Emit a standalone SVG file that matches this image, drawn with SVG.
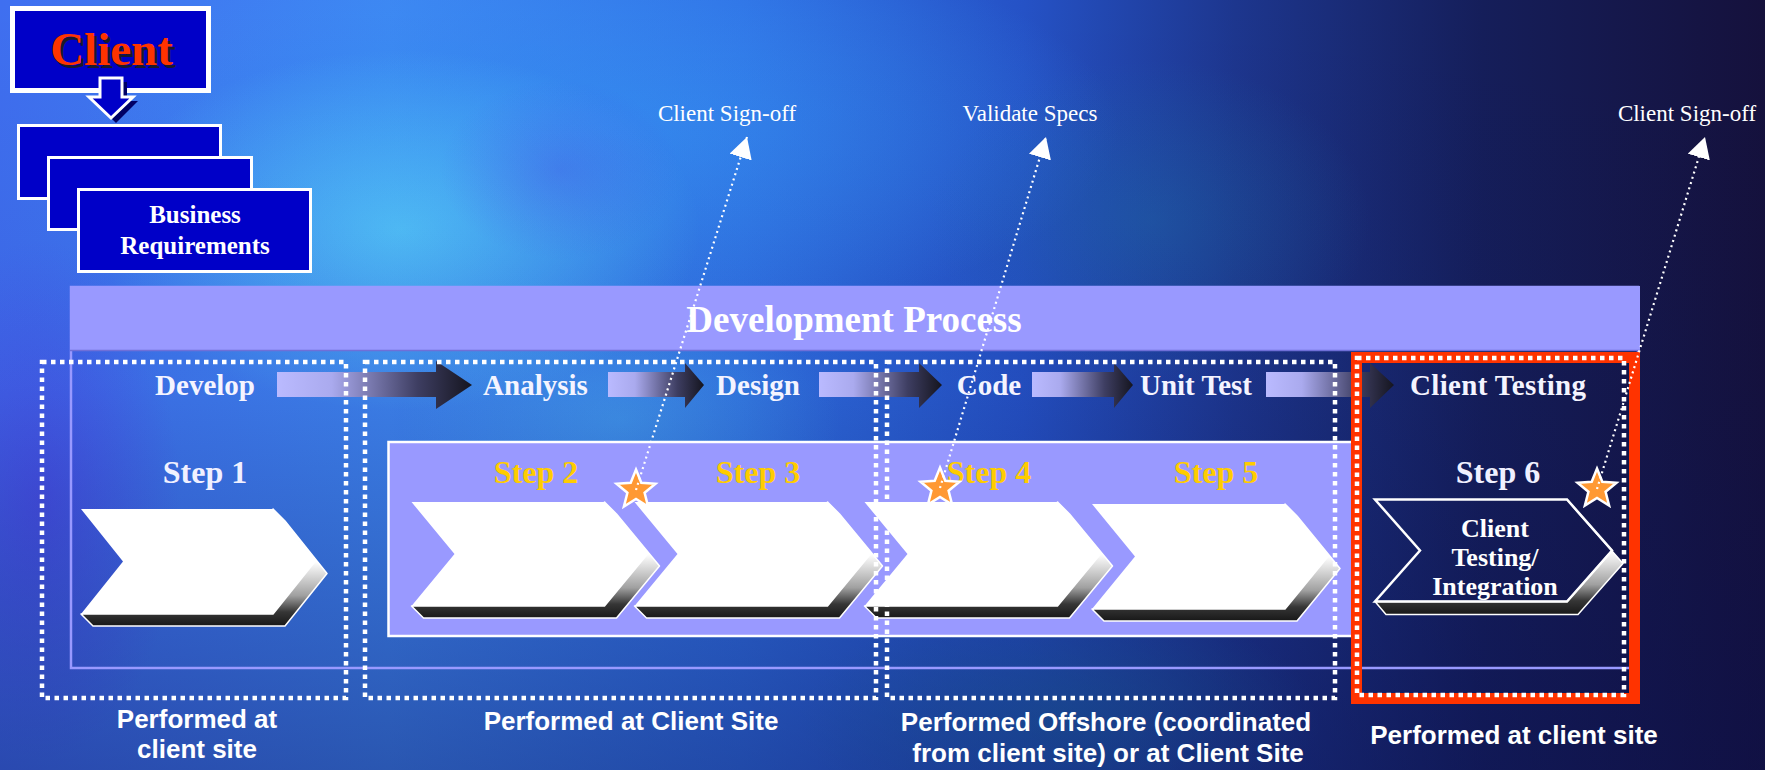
<svg xmlns="http://www.w3.org/2000/svg" width="1765" height="770" viewBox="0 0 1765 770">
  <style>
    .serif { font-family: "Liberation Serif", "Times New Roman", serif; font-weight: bold; }
    .note { font-family: "Liberation Serif", "Times New Roman", serif; font-size: 23px; fill: #ffffff; }
    .sans { font-family: "Liberation Sans", Arial, sans-serif; font-weight: bold; font-size: 26px; fill: #ffffff; }
    .phase { font-size: 29px; fill: #f4f4ff; }
    .step { font-size: 32px; }
    .gold { fill: #ffcc00; }
    .pale { fill: #f0f0ff; }
    .face { fill: #ffffff; }
    .bevel { fill: url(#bevelGrad); stroke: #ffffff; stroke-width: 1.5; stroke-linejoin: round; }
    .dotbox { fill: none; stroke: #ffffff; stroke-width: 4.5; stroke-dasharray: 4.5 4.5; }
    .flow { fill: url(#flowGrad); }
    .req { fill: #0000c8; stroke: #ffffff; stroke-width: 3; }
    .link { fill: none; stroke: #ffffff; stroke-width: 2.2; stroke-dasharray: 2 3.5; marker-end: url(#tri); }
    .star { fill: #ff9933; stroke: #ffffff; stroke-width: 2.5; stroke-linejoin: miter; }
  </style>
  <defs>
    <linearGradient id="bgBase" x1="0" y1="0" x2="1" y2="0">
      <stop offset="0" stop-color="#3f6ff0"/>
      <stop offset="0.22" stop-color="#3f86f2"/>
      <stop offset="0.42" stop-color="#3070e4"/>
      <stop offset="0.58" stop-color="#2552c6"/>
      <stop offset="0.7" stop-color="#1d368e"/>
      <stop offset="0.84" stop-color="#151e5a"/>
      <stop offset="1" stop-color="#15113c"/>
    </linearGradient>
    <radialGradient id="glowCyan" cx="0.5" cy="0.5" r="0.5">
      <stop offset="0" stop-color="#5ad8ff" stop-opacity="0.7"/>
      <stop offset="0.5" stop-color="#5ad8ff" stop-opacity="0.35"/>
      <stop offset="1" stop-color="#5ad8ff" stop-opacity="0"/>
    </radialGradient>
    <radialGradient id="glowBlue" cx="0.5" cy="0.5" r="0.5">
      <stop offset="0" stop-color="#3592f5" stop-opacity="0.75"/>
      <stop offset="1" stop-color="#3592f5" stop-opacity="0"/>
    </radialGradient>
    <radialGradient id="glowViolet" cx="0.5" cy="0.5" r="0.5">
      <stop offset="0" stop-color="#4a46e8" stop-opacity="0.7"/>
      <stop offset="1" stop-color="#4a46e8" stop-opacity="0"/>
    </radialGradient>
    <radialGradient id="glowTeal" cx="0.5" cy="0.5" r="0.5">
      <stop offset="0" stop-color="#1f6fa8" stop-opacity="0.6"/>
      <stop offset="1" stop-color="#1f6fa8" stop-opacity="0"/>
    </radialGradient>
    <linearGradient id="shade" x1="0" y1="0" x2="0" y2="1">
      <stop offset="0" stop-color="#0a1050" stop-opacity="0"/>
      <stop offset="0.5" stop-color="#0a1050" stop-opacity="0.08"/>
      <stop offset="1" stop-color="#0a1050" stop-opacity="0.4"/>
    </linearGradient>
    <linearGradient id="flowGrad" x1="0" y1="0" x2="1" y2="0">
      <stop offset="0" stop-color="#babaff"/>
      <stop offset="0.28" stop-color="#aaaaee"/>
      <stop offset="0.72" stop-color="#3e3e62"/>
      <stop offset="1" stop-color="#15151f"/>
    </linearGradient>
    <linearGradient id="bevelGrad" x1="0" y1="0" x2="0" y2="1">
      <stop offset="0.45" stop-color="#ffffff"/>
      <stop offset="0.74" stop-color="#a0a0a0"/>
      <stop offset="0.88" stop-color="#363636"/>
      <stop offset="1" stop-color="#181818"/>
    </linearGradient>
    <marker id="tri" markerUnits="userSpaceOnUse" viewBox="0 0 21 23" refX="21" refY="11.5" markerWidth="21" markerHeight="23" orient="auto">
      <path d="M0,0 L21,11.5 L0,23 Z" fill="#ffffff"/>
    </marker>
    <path id="starShape" d="M0,-20.5 L5.3,-7.3 L19.5,-6.3 L8.6,2.8 L12.1,16.6 L0,9 L-12.1,16.6 L-8.6,2.8 L-19.5,-6.3 L-5.3,-7.3 Z"/>
  </defs>

  <!-- backdrop -->
  <g id="backdrop">
    <rect x="0" y="0" width="1765" height="770" fill="url(#bgBase)"/>
    <ellipse cx="600" cy="130" rx="520" ry="200" fill="url(#glowBlue)"/>
    <ellipse cx="400" cy="230" rx="300" ry="180" fill="url(#glowCyan)"/>
    <ellipse cx="620" cy="420" rx="220" ry="130" fill="url(#glowCyan)" opacity="0.45"/>
    <ellipse cx="40" cy="500" rx="140" ry="260" fill="url(#glowViolet)"/>
    <ellipse cx="560" cy="170" rx="120" ry="90" fill="url(#glowViolet)" opacity="0.45"/>
    <ellipse cx="1060" cy="720" rx="260" ry="120" fill="url(#glowTeal)"/>
    <ellipse cx="1150" cy="220" rx="220" ry="160" fill="url(#glowTeal)" opacity="0.7"/>
    <rect x="0" y="0" width="1765" height="770" fill="url(#shade)"/>
  </g>

  <!-- client and requirements -->
  <g id="client">
    <rect x="12.5" y="8.5" width="196" height="82" fill="#0000c8" stroke="#ffffff" stroke-width="5"/>
    <text x="114.5" y="68" class="serif" font-size="47" text-anchor="middle" fill="#1a1a2a">Client</text>
    <text x="111.5" y="65" class="serif" font-size="47" text-anchor="middle" fill="#ff3300">Client</text>
  </g>
  <g id="client-arrow">
    <polygon points="105,82 127,82 127,101 138,101 116,123 94,101 105,101" fill="#000066"/>
    <polygon points="100,78 122,78 122,97 133,97 111,118 89,97 100,97" fill="#0000c8" stroke="#ffffff" stroke-width="3" stroke-linejoin="miter"/>
  </g>
  <g id="requirements">
    <rect class="req" x="18.5" y="125.5" width="202" height="73"/>
    <rect class="req" x="48.5" y="157.5" width="203" height="72"/>
    <rect class="req" x="78.5" y="189.5" width="232" height="82"/>
    <text x="195" y="223" class="serif" font-size="25" text-anchor="middle" fill="#ffffff">Business</text>
    <text x="195" y="254" class="serif" font-size="25" text-anchor="middle" fill="#ffffff">Requirements</text>
  </g>

  <!-- development process frame -->
  <g id="process-frame">
    <rect x="71" y="287" width="1567" height="381" fill="none" stroke="#9999ff" stroke-width="2.5"/>
    <rect x="70" y="286" width="1570" height="64" fill="#9999ff"/>
    <line x1="70" y1="350.5" x2="1640" y2="350.5" stroke="#6f6fd8" stroke-width="1.5"/>
    <text x="854" y="332" class="serif" font-size="37" text-anchor="middle" fill="#ffffff">Development Process</text>
  </g>

  <!-- panel behind steps 2 to 5 -->
  <g id="step-panel">
    <rect x="388.5" y="442" width="968" height="194" fill="#9999ff" stroke="#ffffff" stroke-width="2.5"/>
  </g>

  <!-- phase flow arrows -->
  <g id="connectors">
    <polygon class="flow" points="277,372 436,372 436,361 472,385 436,409 436,397 277,397"/>
    <polygon class="flow" points="608,372 685,372 685,363 704,385 685,408 685,397 608,397"/>
    <polygon class="flow" points="819,372 919,372 919,363 942,385 919,408 919,397 819,397"/>
    <polygon class="flow" points="1032,372 1114,372 1114,363 1133,385 1114,408 1114,397 1032,397"/>
    <polygon class="flow" points="1266,372 1370,372 1370,363 1394,385 1370,408 1370,397 1266,397"/>
  </g>

  <!-- step chevrons -->
  <g id="step1">
    <path class="bevel" d="M273,509 L285,521 L327,573.5 L285,626 H93 L81,614 H273 L315,561.5 Z"/>
    <path class="face" d="M81,509 H273 L315,561.5 L273,614 H81 L123,561.5 Z"/>
    <text x="205" y="483" class="serif step pale" text-anchor="middle">Step 1</text>
    <text x="205" y="395" class="serif phase" text-anchor="middle">Develop</text>
  </g>
  <g id="step2">
    <path class="bevel" d="M604.5,502 L616.5,514 L659.5,566 L616.5,618 H423.5 L411.5,606 H604.5 L647.5,554 Z"/>
    <path class="face" d="M411.5,502 H604.5 L647.5,554 L604.5,606 H411.5 L454.5,554 Z"/>
    <text x="536" y="483" class="serif step gold" text-anchor="middle">Step 2</text>
    <text x="535.5" y="395" class="serif phase" text-anchor="middle">Analysis</text>
  </g>
  <g id="step3">
    <path class="bevel" d="M827.5,502 L839.5,514 L882.5,566 L839.5,618 H646.5 L634.5,606 H827.5 L870.5,554 Z"/>
    <path class="face" d="M634.5,502 H827.5 L870.5,554 L827.5,606 H634.5 L677.5,554 Z"/>
    <text x="758" y="483" class="serif step gold" text-anchor="middle">Step 3</text>
    <text x="758" y="395" class="serif phase" text-anchor="middle">Design</text>
  </g>
  <g id="step4">
    <path class="bevel" d="M1057.5,502 L1069.5,514 L1112.5,566 L1069.5,618 H876.5 L864.5,606 H1057.5 L1100.5,554 Z"/>
    <path class="face" d="M864.5,502 H1057.5 L1100.5,554 L1057.5,606 H864.5 L907.5,554 Z"/>
    <text x="989" y="483" class="serif step gold" text-anchor="middle">Step 4</text>
    <text x="989" y="395" class="serif phase" text-anchor="middle">Code</text>
  </g>
  <g id="step5">
    <path class="bevel" d="M1285,504 L1297,516 L1340,568.5 L1297,621 H1104 L1092,609 H1285 L1328,556.5 Z"/>
    <path class="face" d="M1092,504 H1285 L1328,556.5 L1285,609 H1092 L1135,556.5 Z"/>
    <text x="1216" y="483" class="serif step gold" text-anchor="middle">Step 5</text>
    <text x="1196" y="395" class="serif phase" text-anchor="middle">Unit Test</text>
  </g>

  <!-- site groupings -->
  <g id="site-groups">
    <rect class="dotbox" x="42" y="362" width="304" height="336"/>
    <rect class="dotbox" x="365" y="362" width="511" height="336"/>
    <rect class="dotbox" x="887" y="362" width="448" height="336"/>
  </g>

  <!-- client testing step -->
  <g id="step6">
    <rect x="1356.5" y="357.5" width="278" height="341" fill="none" stroke="#ff3300" stroke-width="11"/>
    <rect class="dotbox" x="1357" y="358" width="267" height="337"/>
    <path class="bevel" d="M1567,499.5 L1578,512.5 L1623,563.5 L1578,614.5 H1386 L1375,601.5 H1567 L1612,550.5 Z"/>
    <path d="M1375,499.5 H1567 L1612,550.5 L1567,601.5 H1375 L1420,550.5 Z" fill="none" stroke="#ffffff" stroke-width="2.5" stroke-linejoin="miter"/>
    <text x="1498" y="395" class="serif phase" text-anchor="middle" textLength="176">Client Testing</text>
    <text x="1498" y="483" class="serif step pale" text-anchor="middle">Step 6</text>
    <text x="1495" y="537" class="serif" font-size="26" text-anchor="middle" fill="#ffffff">Client</text>
    <text x="1495" y="566" class="serif" font-size="26" text-anchor="middle" fill="#ffffff">Testing/</text>
    <text x="1495" y="595" class="serif" font-size="26" text-anchor="middle" fill="#ffffff">Integration</text>
  </g>

  <!-- site captions -->
  <g id="captions">
    <text x="197" y="728" class="sans" text-anchor="middle">Performed at</text>
    <text x="197" y="758" class="sans" text-anchor="middle">client site</text>
    <text x="631" y="730" class="sans" text-anchor="middle">Performed at Client Site</text>
    <text x="1106" y="731" class="sans" text-anchor="middle">Performed Offshore (coordinated</text>
    <text x="1108" y="762" class="sans" text-anchor="middle">from client site) or at Client Site</text>
    <text x="1514" y="744" class="sans" text-anchor="middle">Performed at client site</text>
  </g>

  <!-- checkpoints -->
  <g id="checkpoint-signoff">
    <use href="#starShape" class="star" transform="translate(636,490)"/>
    <text x="727" y="121" class="note" text-anchor="middle">Client Sign-off</text>
  </g>
  <g id="checkpoint-specs">
    <use href="#starShape" class="star" transform="translate(940,488)"/>
    <text x="1030" y="121" class="note" text-anchor="middle">Validate Specs</text>
  </g>
  <g id="checkpoint-final">
    <use href="#starShape" class="star" transform="translate(1597,489)"/>
    <text x="1687" y="121" class="note" text-anchor="middle">Client Sign-off</text>
  </g>

  <!-- checkpoint leaders -->
  <g id="leaders">
    <line class="link" x1="636" y1="490" x2="747" y2="137"/>
    <line class="link" x1="940" y1="488" x2="1046" y2="137"/>
    <line class="link" x1="1597" y1="489" x2="1705" y2="137"/>
  </g>
</svg>
